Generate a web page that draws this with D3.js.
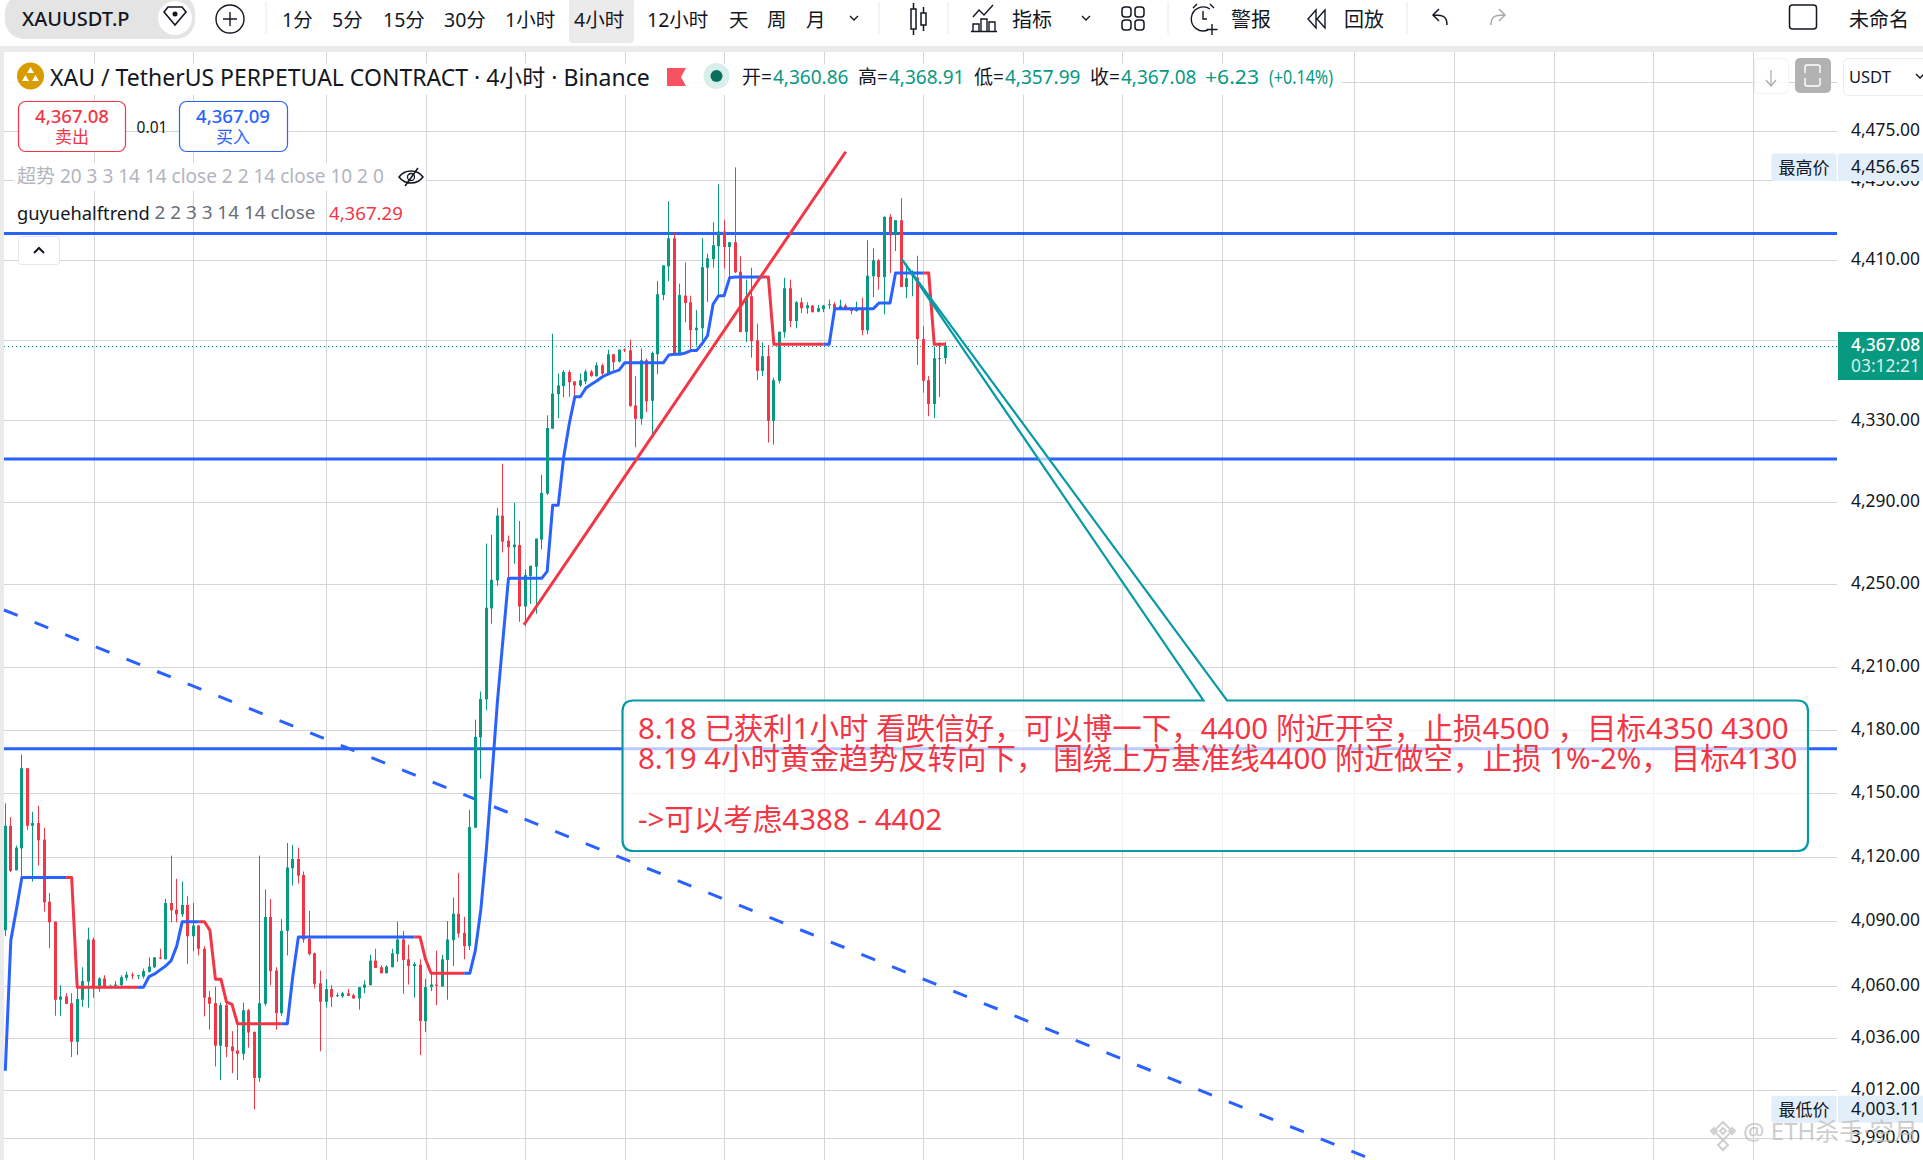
<!DOCTYPE html>
<html>
<head>
<meta charset="utf-8">
<title>XAUUSDT.P 4小时</title>
<script src="https://cdn.jsdelivr.net/npm/d3@7"></script>
<style>
    html, body { margin: 0; padding: 0; background: #fff; overflow: hidden; }
    svg { display: block; }
    text { font-family: "Noto Sans", "Noto Sans CJK SC", sans-serif; }
</style>
</head>
<body>
<div id="chart"></div>
<script>
// candles, oldest first
const opens = [
    4085.7,4134.6,4113.7,4124,4161.8,4134.6,4135.9,4128.1,4099,4089.7,
    4053.5,4055,4051.9,4034.1,4053.5,4061.8,4081.4,4058.7,4063.3,4059.3,
    4059.9,4060.2,4063.6,4065.1,4064.4,4064.2,4066.4,4068.5,4073.1,4072.2,
    4098.4,4095.3,4093.1,4097.5,4082.9,4087.9,4077.1,4054.7,4051.9,4032.3,
    4051,4032,4030.1,4028.6,4048.6,4038.7,4017.5,4051.6,4091.9,4067,
    4047.3,4085.4,4114.6,4119,4111.5,4081.7,4075,4061.1,4052.5,4058.4,
    4055.2,4055,4056.5,4055.6,4054.1,4059,4060.2,4071.6,4068.5,4065.7,
    4068.5,4074.6,4081.4,4072.2,4069.1,4069.7,4043.6,4059.3,4060.5,4059.6,
    4071.9,4081.1,4093.4,4084.5,4078.3,4133.7,4176.5,4194.6,4238.3,4251.8,
    4283.3,4271.1,4267.9,4269,4239.2,4254,4258.4,4271.6,4294.1,4325.9,
    4343,4347,4353.9,4349.3,4347.3,4349.3,4354.2,4351.9,4357.3,4353.2,
    4362.8,4359.1,4365.2,4364.7,4337.4,4330.8,4359.8,4339.7,4362.8,4392.3,
    4406.7,4420.8,4363.1,4392,4388.7,4374.7,4375.7,4406,4410.3,4416.8,
    4424.2,4416.4,4418.8,4404,4373.8,4391.7,4369.7,4354.5,4361.8,4329.8,
    4349.6,4373.7,4395.7,4379.3,4388.7,4385.7,4387,4384,4385.3,4387.3,
    4387.7,4385.7,4387,4385.7,4384.3,4386,4374.7,4401.7,4409.7,4401.3,
    4431.6,4422.5,4429.9,4396.3,4402,4401,4370.3,4349.9,4338.1,4360.3,
    4360.86
];
const highs = [
    4145.2,4138.7,4125.3,4168.3,4161.8,4141.2,4144,4133.7,4103.1,4089.7,
    4060.2,4056.5,4056.5,4059.9,4068.5,4086.9,4082.3,4063.9,4064.8,4060.5,
    4062.1,4064.8,4066.4,4066.1,4064.8,4067.9,4073.1,4073.1,4077.1,4100.3,
    4120.6,4109.7,4108.4,4101.5,4098.4,4088.2,4078.3,4057.5,4059.6,4052.2,
    4052.2,4039,4042.1,4052.2,4049.2,4038.7,4120.6,4104.7,4100.3,4068.5,
    4090.9,4126.5,4125.6,4124.3,4113.1,4094.7,4075.3,4067,4063,4060.2,
    4056.8,4057.2,4058.4,4056.2,4059.3,4062.4,4074.3,4077.1,4069.4,4069.4,
    4077.1,4089.7,4085.4,4078.9,4071,4072.2,4063,4065.7,4076.2,4074.3,
    4090,4100.9,4112.5,4091.9,4142.1,4184.9,4198.3,4269.7,4273.9,4287.1,
    4308.7,4273.6,4289.5,4280.7,4257,4258.9,4272.1,4303.3,4332.5,4373,
    4353.2,4354.9,4354.9,4349.3,4353.2,4355.2,4354.9,4358.8,4358.1,4365.1,
    4362.8,4365.1,4365.7,4370,4351.9,4365.7,4360.6,4364.1,4399.3,4407.2,
    4439.5,4423.8,4398,4408.7,4392,4384.7,4420.8,4413,4428.9,4448.1,
    4429.9,4418.9,4456.65,4411.7,4400,4406,4378,4368.7,4367.4,4351.2,
    4374,4401,4400,4389.3,4391,4388.7,4387.3,4387.3,4387.3,4390,
    4388.7,4390,4388,4386,4389,4391,4419.8,4415.7,4410.3,4431.9,
    4433,4429.9,4441.1,4408,4404.7,4412,4376.7,4351.9,4366.7,4368.7,
    4368.91
];
const lows = [
    4082.9,4112.8,4113.7,4110.6,4132.7,4108.4,4115.9,4094.4,4077.4,4046.1,
    4046.1,4051.6,4027.1,4028,4050.1,4049.8,4054.4,4057.2,4058.7,4058.7,
    4058.7,4059.9,4062.4,4063,4063,4063.3,4066.1,4068.2,4072.2,4072.2,
    4089.4,4089.4,4091.9,4070,4075.9,4074,4045.8,4039.7,4022.8,4016.6,
    4027.1,4019.7,4016.6,4025.8,4031.4,4003.11,4015.7,4050.7,4060.2,4039.7,
    4046.1,4074,4106.5,4107.5,4079.9,4074,4058.7,4029.8,4049.8,4050.1,
    4054.7,4054.4,4055.3,4053.8,4048.9,4056.5,4060.2,4068.2,4065.7,4065.7,
    4068.5,4071,4056.2,4060.5,4054.4,4028,4038.7,4057.5,4051,4059.3,
    4053.5,4069.1,4082.3,4072.2,4076.5,4133.7,4156.8,4189.4,4230.9,4249.2,
    4265.4,4252.9,4259.9,4231.8,4229.6,4240.5,4235.7,4266.8,4293.4,4325.9,
    4331.2,4341.4,4341.7,4341.7,4346.6,4347.9,4351.6,4351.6,4352.4,4353.2,
    4354.9,4358.8,4363.9,4336.7,4316.8,4327.9,4334.1,4322.7,4352.9,4389.7,
    4399.3,4363.1,4362.8,4378.7,4364.1,4367.2,4368,4388.8,4406,4392.2,
    4405.5,4401,4403.3,4373.8,4368.8,4361.1,4349.9,4351.9,4319.1,4318.1,
    4348.3,4371,4376.3,4375.7,4383.3,4383,4383.7,4383.7,4383.7,4385.3,
    4384,4385.3,4384.7,4382.7,4384,4372.3,4372.7,4391.3,4395,4382.7,
    4403.3,4414.4,4396.3,4390.7,4391.7,4357.5,4343.7,4332.1,4331.2,4341.7,
    4357.99
];
const closes = [
    4134.6,4113.4,4124.3,4161.8,4134.6,4135.9,4127.8,4098.7,4089.4,4053.5,
    4055,4051.6,4034.1,4053.8,4062.1,4081.4,4059.3,4063.3,4059.3,4059.9,
    4060.5,4063.9,4065.1,4064.7,4064.8,4066.7,4068.8,4073.1,4072.5,4098.4,
    4095,4093.1,4097.5,4082.9,4087.9,4077.1,4054.4,4051.6,4032.3,4051,
    4031.7,4029.8,4028.6,4048.6,4038.4,4017.5,4051.9,4091.9,4066.7,4047.3,
    4085.4,4115,4119,4111.2,4081.4,4074.6,4060.8,4052.5,4058.4,4054.7,
    4055.6,4056.5,4055.3,4054.1,4059.3,4060.5,4071.6,4068.2,4065.7,4068.8,
    4075,4081.4,4071.9,4069.1,4070,4043.6,4059.3,4060.5,4059.9,4072.2,
    4081.4,4093.4,4084.2,4078.3,4134,4176.7,4194.8,4238.6,4252.1,4283.3,
    4270.6,4267.9,4269.2,4239.2,4254.4,4258.9,4272.1,4294.4,4326.3,4343.3,
    4347.3,4354,4348.9,4347.3,4349.9,4354.2,4351.9,4357.3,4353.2,4362.8,
    4358.8,4365.1,4364.7,4337.1,4330.8,4359.8,4339.4,4363.4,4392.7,4407.2,
    4420.8,4363.1,4392.3,4388.3,4374.7,4376,4406.3,4410.7,4417.3,4424.2,
    4416.4,4418.8,4403.7,4373.8,4391.7,4369.3,4354.5,4361.8,4329.8,4349.9,
    4374,4395.7,4379.3,4388.7,4385.7,4387.2,4383.7,4385.7,4387,4387.7,
    4385.7,4387,4385.3,4384.3,4386,4374.7,4402,4409.7,4401.3,4431.6,
    4422.3,4429.9,4396.3,4400.7,4402.7,4370.3,4349.6,4338.1,4360.8,4360.8,
    4367.08
];

// guyuehalftrend, one value per candle
const halfTrend = [
    4020.8,4081.1,4095.3,4110.3,4110.3,4110.3,4110.3,4110.3,4110.3,4110.3,
    4110.3,4110.3,4110.3,4059.3,4059.3,4059.3,4059.3,4059.3,4059.3,4059.3,
    4059.3,4059.3,4059.3,4059.3,4059.3,4059.3,4064.2,4065.4,4067.3,4069.1,
    4071.6,4078.3,4089.7,4089.7,4089.7,4089.7,4089.7,4085.7,4063,4063,
    4052.5,4051.3,4042.4,4042.4,4042.4,4042.4,4042.4,4042.4,4042.4,4042.4,
    4042.4,4042.4,4064.5,4082.6,4082.6,4082.6,4082.6,4082.6,4082.6,4082.6,
    4082.6,4082.6,4082.6,4082.6,4082.6,4082.6,4082.6,4082.6,4082.6,4082.6,
    4082.6,4082.6,4082.6,4082.6,4082.6,4082.6,4072.2,4065.7,4065.7,4065.7,
    4065.7,4065.7,4065.7,4065.7,4065.7,4076.2,4095.3,4123.4,4157.7,4193.5,
    4223.2,4252.8,4252.8,4252.8,4252.8,4252.8,4252.8,4252.8,4256.2,4288.4,
    4288.4,4312.3,4328.5,4341.7,4341.7,4346,4347.9,4349.6,4351.6,4352.9,
    4354,4354.9,4358.5,4358.5,4358.5,4358.5,4358.5,4358.5,4358.5,4358.5,
    4362.4,4362.8,4362.8,4363.4,4364.6,4364.6,4368,4372,4387.7,4392,
    4392,4401,4401.3,4401.3,4401.3,4401.3,4401.3,4401.3,4401.3,4367.7,
    4367.7,4367.7,4367.7,4367.7,4367.7,4367.7,4367.7,4367.7,4367.7,4367.7,
    4385.5,4385.5,4385.5,4385.5,4385.5,4385.5,4385.5,4385.5,4388.3,4388.3,
    4388.3,4403.3,4403.3,4403.3,4403.3,4403.3,4403.3,4403.3,4367.7,4367.7,
    4367.7
];
// bars where the halftrend changes colour, it starts out blue
const halfTrendFlips = [12, 25, 36, 51, 75, 84, 138, 149, 167];

const priceTicks = [4500, 4475, 4450, 4410, 4370, 4330, 4290, 4250, 4210, 4180, 4150, 4120, 4090, 4060, 4036, 4012, 3990];
const timeGridBars = [16, 34, 58, 76, 94, 112, 130, 148, 166, 184, 202, 220, 244, 262, 280, 298, 316];
const levelLines = [4423.2, 4311, 4171];

const intervals = ["1分", "5分", "15分", "30分", "1小时", "4小时", "12小时", "天", "周", "月"];
const intervalX = [282, 332, 383, 444, 505, 574, 647, 729, 767, 806];
const noteLines = [
    "8.18 已获利1小时 看跌信好，可以博一下，4400 附近开空，止损4500 ，目标4350 4300",
    "8.19 4小时黄金趋势反转向下， 围绕上方基准线4400 附近做空，止损 1%-2%，目标4130",
    "->可以考虑4388 - 4402"
];
const lastPrice = 4367.08;
const highPrice = 4456.65;
const lowPrice = 4003.11;

const green = "#089981", red = "#f23645", blue = "#2962ff", teal = "#089aa6";
const paneLeft = 4, paneRight = 1837, paneTop = 52, height = 1160, width = 1923;

const xScale = d3.scaleLinear().domain([0, 170]).range([5.3, 945.3]);
const yScale = d3.scaleLog().domain([3990, 4475]).range([1138.3, 131.3]);
const fmt = d3.format(",.2f");

const svg = d3.select("#chart").append("svg").attr("width", width).attr("height", height);

// window background
svg.append("rect").attr("width", width).attr("height", height).attr("fill", "#fff");
svg.append("rect").attr("y", 46).attr("width", width).attr("height", 6).attr("fill", "#ebebeb");
svg.append("rect").attr("y", 46).attr("width", paneLeft).attr("height", height - 46).attr("fill", "#ebebeb");

// grid
const grid = svg.append("g").attr("stroke", "#d5d5d5").attr("stroke-width", 1);
grid.selectAll(".hgrid").data(priceTicks).enter().append("line")
    .attr("x1", paneLeft).attr("x2", paneRight)
    .attr("y1", d => Math.round(yScale(d)) + 0.5).attr("y2", d => Math.round(yScale(d)) + 0.5);
grid.selectAll(".vgrid").data(timeGridBars).enter().append("line")
    .attr("y1", paneTop).attr("y2", height)
    .attr("x1", d => Math.round(xScale(d)) + 0.5).attr("x2", d => Math.round(xScale(d)) + 0.5);

// price axis labels
const axis = d3.axisRight(yScale).tickValues(priceTicks).tickFormat(fmt).tickSize(0).tickPadding(14);
const axisG = svg.append("g").attr("transform", `translate(${paneRight},-1)`).call(axis);
axisG.select(".domain").remove();
axisG.selectAll("text").attr("font-size", 17.4).attr("fill", "#131722")
    .style("font-family", '"Noto Sans"');

// level lines
svg.selectAll(".level").data(levelLines).enter().append("line")
    .attr("x1", paneLeft).attr("x2", paneRight)
    .attr("y1", d => yScale(d)).attr("y2", d => yScale(d))
    .attr("stroke", blue).attr("stroke-width", 3);

// dashed trend line, it runs off the bottom of the window
svg.append("line")
    .attr("x1", xScale(-0.24)).attr("y1", yScale(4237.5))
    .attr("x2", xScale(247.5)).attr("y2", yScale(3980.1))
    .attr("stroke", blue).attr("stroke-width", 3)
    .attr("stroke-dasharray", "14.7 18.3");

// last price dotted line
svg.append("line")
    .attr("x1", paneLeft).attr("x2", paneRight)
    .attr("y1", Math.round(yScale(lastPrice)) + 0.5).attr("y2", Math.round(yScale(lastPrice)) + 0.5)
    .attr("stroke", green).attr("stroke-width", 1).attr("stroke-dasharray", "1 3");

// candles
const candleData = opens.map((o, i) => ({ i, o, h: highs[i], l: lows[i], c: closes[i] }));
const candles = svg.append("g").selectAll("g").data(candleData).enter().append("g")
    .attr("fill", d => d.c >= d.o ? green : red);
candles.append("rect")
    .attr("x", d => Math.floor(xScale(d.i)))
    .attr("width", 1)
    .attr("y", d => yScale(d.h))
    .attr("height", d => yScale(d.l) - yScale(d.h));
candles.append("rect")
    .attr("x", d => Math.floor(xScale(d.i)) - 1)
    .attr("width", 3)
    .attr("y", d => yScale(Math.max(d.o, d.c)))
    .attr("height", d => Math.max(1, Math.abs(yScale(d.o) - yScale(d.c))));

// halftrend, one path per colour run
const htLine = d3.line().x(d => xScale(d)).y(d => yScale(halfTrend[d]));
const runStarts = [0].concat(halfTrendFlips);
runStarts.forEach((start, n) => {
    const end = n + 1 < runStarts.length ? runStarts[n + 1] - 1 : halfTrend.length - 1;
    const bars = d3.range(Math.max(0, start - 1), end + 1);
    svg.append("path")
        .attr("d", htLine(bars))
        .attr("fill", "none")
        .attr("stroke", n % 2 === 0 ? blue : red)
        .attr("stroke-width", 3)
        .attr("stroke-linejoin", "round");
});

// red rising trend line
svg.append("line")
    .attr("x1", xScale(93.8)).attr("y1", yScale(4230.4))
    .attr("x2", xScale(152)).attr("y2", yScale(4464.6))
    .attr("stroke", red).attr("stroke-width", 3);

// callout
const boxL = 622.5, boxR = 1808, boxT = 700.5, boxB = 851, r = 11;
const tipX = xScale(162.1), tipY = yScale(4410.4);
const callout = d3.path();
callout.moveTo(boxL + r, boxT);
callout.lineTo(1203.4, boxT);
callout.lineTo(tipX, tipY);
callout.lineTo(1227, boxT);
callout.lineTo(boxR - r, boxT);
callout.quadraticCurveTo(boxR, boxT, boxR, boxT + r);
callout.lineTo(boxR, boxB - r);
callout.quadraticCurveTo(boxR, boxB, boxR - r, boxB);
callout.lineTo(boxL + r, boxB);
callout.quadraticCurveTo(boxL, boxB, boxL, boxB - r);
callout.lineTo(boxL, boxT + r);
callout.quadraticCurveTo(boxL, boxT, boxL + r, boxT);
callout.closePath();
svg.append("path").attr("d", callout.toString())
    .attr("fill", "#fff").attr("fill-opacity", 0.68)
    .attr("stroke", teal).attr("stroke-width", 2.2);

svg.selectAll(".note").data(noteLines).enter().append("text")
    .attr("x", 638)
    .attr("y", (d, i) => [739, 769, 830][i])
    .attr("font-size", 29.5)
    .attr("fill", red)
    .text(d => d);

// ---- top toolbar ----
function label(x, y, txt, size, fill, anchor, weight) {
    return svg.append("text").attr("x", x).attr("y", y).attr("font-size", size)
        .attr("fill", fill || "#131722").attr("text-anchor", anchor || "start")
        .attr("dominant-baseline", "central").attr("font-weight", weight || 400).text(txt);
}
function stroked(d, sw, col) {
    return svg.append("path").attr("d", d).attr("fill", "none")
        .attr("stroke", col || "#131722").attr("stroke-width", sw || 1.5);
}
function sep(x) {
    svg.append("line").attr("x1", x).attr("x2", x).attr("y1", 2).attr("y2", 34).attr("stroke", "#e8e8e8");
}

svg.append("rect").attr("x", 5).attr("y", -6).attr("width", 190).attr("height", 45).attr("rx", 19).attr("fill", "#e4e4e4");
label(22, 18, "XAUUSDT.P", 20, "#131722", "start", 500);
svg.append("circle").attr("cx", 175).attr("cy", 18).attr("r", 17).attr("fill", "#fff");
stroked("M164 12l4-5h14l4 5-11 13z", 1.6);
svg.append("circle").attr("cx", 175).attr("cy", 14).attr("r", 2.5).attr("fill", "#131722");
svg.append("circle").attr("cx", 230).attr("cy", 19).attr("r", 14).attr("fill", "none").attr("stroke", "#131722").attr("stroke-width", 1.4);
stroked("M223 19h14M230 12v14", 1.4);
sep(266);
svg.append("rect").attr("x", 569).attr("y", -6).attr("width", 65).attr("height", 49).attr("rx", 4).attr("fill", "#ebebeb");
intervals.forEach((t, i) => label(intervalX[i], 19, t, 19.5));
stroked("M850 16l4 4 4-4", 1.4);
sep(879);
stroked("M911 9h5v20h-5zM921 13h5v12h-5zM913.5 3v6M913.5 29v6M923.5 7v6M923.5 25v6", 1.5);
sep(948);
stroked("M973 17l6-7 5 5 9-10M973 31v-7h6v7M981 31v-12h6v12M989 31v-9h6v9M971 31.5h26", 1.4);
label(1012, 19, "指标", 20);
stroked("M1082 16l4 4 4-4", 1.4);
svg.append("g").attr("fill", "none").attr("stroke", "#131722").attr("stroke-width", 1.5)
    .selectAll("rect").data([[1122, 7], [1135, 7], [1122, 20], [1135, 20]]).enter().append("rect")
    .attr("x", d => d[0]).attr("y", d => d[1]).attr("width", 9).attr("height", 10).attr("rx", 3);
sep(1168);
stroked("M1210 9a12 12 0 1 0 -2 21M1193 8l4-4M1210 4l4 4M1203 11v8h4M1212 24v11M1206.5 29.5h11", 1.4);
label(1231, 19, "警报", 20);
stroked("M1316 10l-8 9 8 9zM1325 10l-8 9 8 9z", 1.4);
label(1344, 19, "回放", 20);
sep(1407);
stroked("M1447 25c0-8-3-10-13-10M1439 9l-6 6 6 6", 1.5);
stroked("M1491 25c0-8 3-10 13-10M1499 9l6 6-6 6", 1.5, "#a8a8a8");
svg.append("rect").attr("x", 1789.5).attr("y", 5).attr("width", 27).attr("height", 24).attr("rx", 3).attr("fill", "none").attr("stroke", "#131722").attr("stroke-width", 1.5);
label(1849, 19, "未命名", 20);

// ---- legend over the pane ----
svg.append("rect").attr("x", paneLeft).attr("y", 64).attr("width", 1338).attr("height", 31).attr("fill", "#fff").attr("fill-opacity", 0.9);
svg.append("circle").attr("cx", 30.5).attr("cy", 76).attr("r", 13.5).attr("fill", "#d89c00");
svg.append("path").attr("d", "M30.5 67l3.5 6h-7zM25.5 75l3.5 6h-7zM35.5 75l3.5 6h-7z").attr("fill", "#fff");
label(50, 77, "XAU / TetherUS PERPETUAL CONTRACT · 4小时 · Binance", 23);
svg.append("path").attr("d", "M667 68h19l-5 9 5 9h-19z").attr("fill", "#f7525f");
svg.append("circle").attr("cx", 716.5).attr("cy", 76).attr("r", 13).attr("fill", "#d8efeb");
svg.append("circle").attr("cx", 716.5).attr("cy", 76).attr("r", 6).attr("fill", "#0a6e5c");

const ohlcLabels = [["开=", 742, "4,360.86", 773], ["高=", 858, "4,368.91", 889], ["低=", 974, "4,357.99", 1005], ["收=", 1090, "4,367.08", 1121]];
ohlcLabels.forEach(o => {
    label(o[1], 77, o[0], 19);
    label(o[3], 77, o[2], 19, green);
});
// the change figures run a little wider and narrower than the installed font
label(1205, 77, "+6.23", 19, green).attr("textLength", 54).attr("lengthAdjust", "spacingAndGlyphs");
label(1269, 77, "(+0.14%)", 19, green).attr("textLength", 64).attr("lengthAdjust", "spacingAndGlyphs");

svg.append("rect").attr("x", 18.5).attr("y", 101.5).attr("width", 107).attr("height", 50).attr("rx", 7).attr("fill", "#fff").attr("stroke", red).attr("stroke-width", 1.2);
label(72, 115, "4,367.08", 18.6, red, "middle", 500);
label(72, 136, "卖出", 17, red, "middle");
label(152, 127, "0.01", 15.5, "#131722", "middle");
svg.append("rect").attr("x", 179.5).attr("y", 101.5).attr("width", 108).attr("height", 50).attr("rx", 7).attr("fill", "#fff").attr("stroke", blue).attr("stroke-width", 1.2);
label(233, 115, "4,367.09", 18.6, blue, "middle", 500);
label(233, 136, "买入", 17, blue, "middle");

svg.append("rect").attr("x", 14).attr("y", 163).attr("width", 412).attr("height", 28).attr("fill", "#fff").attr("fill-opacity", 0.9);
label(17, 176, "超势 20 3 3 14 14 close 2 2 14 close 10 2 0", 19, "#b2b5be");
stroked("M399 177c6-8 18-8 24 0c-6 8-18 8-24 0zM405 186l13-18", 1.5);
svg.append("circle").attr("cx", 411).attr("cy", 177).attr("r", 3.5).attr("fill", "none").attr("stroke", "#131722").attr("stroke-width", 1.3);
label(17, 212, "guyuehalftrend", 18.3);
label(154.5, 212, "2 2 3 3 14 14 close", 18.9, "#6a6d78");
label(329, 212, "4,367.29", 18.6, red);

svg.append("rect").attr("x", 18.5).attr("y", 236.5).attr("width", 41).attr("height", 28).attr("rx", 3).attr("fill", "#fff").attr("stroke", "#e6e6e6");
stroked("M34 253l5-5 5 5", 2);

// ---- right top buttons ----
svg.append("rect").attr("x", 1754.5).attr("y", 58.5).attr("width", 34).attr("height", 35).attr("rx", 4).attr("fill", "#fff").attr("fill-opacity", 0.8).attr("stroke", "#f2f2f2");
stroked("M1771 70v15M1766 80l5 6 5-6", 1.2, "#aaaaaa");
svg.append("rect").attr("x", 1795).attr("y", 58).attr("width", 36).attr("height", 35).attr("rx", 5).attr("fill", "#b2b2b2");
stroked("M1805 73v-6a2 2 0 0 1 2-2h11a2 2 0 0 1 2 2v6M1805 78v6a2 2 0 0 0 2 2h11a2 2 0 0 0 2-2v-6", 1.4, "#fff");
svg.append("rect").attr("x", 1843.5).attr("y", 58.5).attr("width", 90).attr("height", 37).attr("rx", 5).attr("fill", "#fff").attr("stroke", "#ececec");
label(1849, 76, "USDT", 16.5);
stroked("M1916 74l4 4 4-4", 1.4);

// ---- price axis badges ----
function priceBadge(y0, y1, name, value) {
    svg.append("rect").attr("x", 1771.5).attr("y", y0).attr("width", 65).attr("height", y1 - y0).attr("rx", 2).attr("fill", "#e3eefb");
    svg.append("rect").attr("x", 1838).attr("y", y0).attr("width", 85).attr("height", y1 - y0).attr("fill", "#e3eefb");
    label(1804, (y0 + y1) / 2, name, 17, "#131722", "middle");
    label(1851, (y0 + y1) / 2 - 1, value, 17.4);
}
priceBadge(153.5, 181, "最高价", fmt(highPrice));
priceBadge(1095.7, 1122.7, "最低价", fmt(lowPrice));

svg.append("rect").attr("x", 1838).attr("y", 332).attr("width", 85).attr("height", 48).attr("fill", green);
label(1851, 344, fmt(lastPrice), 17.4, "#fff", "start", 500);
label(1851, 365, "03:12:21", 17.4, "#d5f0ea");

// watermark
const mark = svg.append("g").attr("fill", "none").attr("stroke", "#c4c4c4").attr("stroke-width", 2).attr("opacity", 0.8);
mark.append("path").attr("d", "M1723 1122l9 9-9 9-9-9zM1723 1128l3 3-3 3-3-3zM1711 1131l3-3 3 3-3 3zM1729 1131l3-3 3 3-3 3zM1723 1140l5 5-5 5-5-5z");
svg.append("text").attr("x", 1743).attr("y", 1140).attr("font-size", 24).attr("fill", "#bdbdbd").attr("opacity", 0.75)
    .text("@ ETH杀手·空月");
</script>
</body>
</html>
